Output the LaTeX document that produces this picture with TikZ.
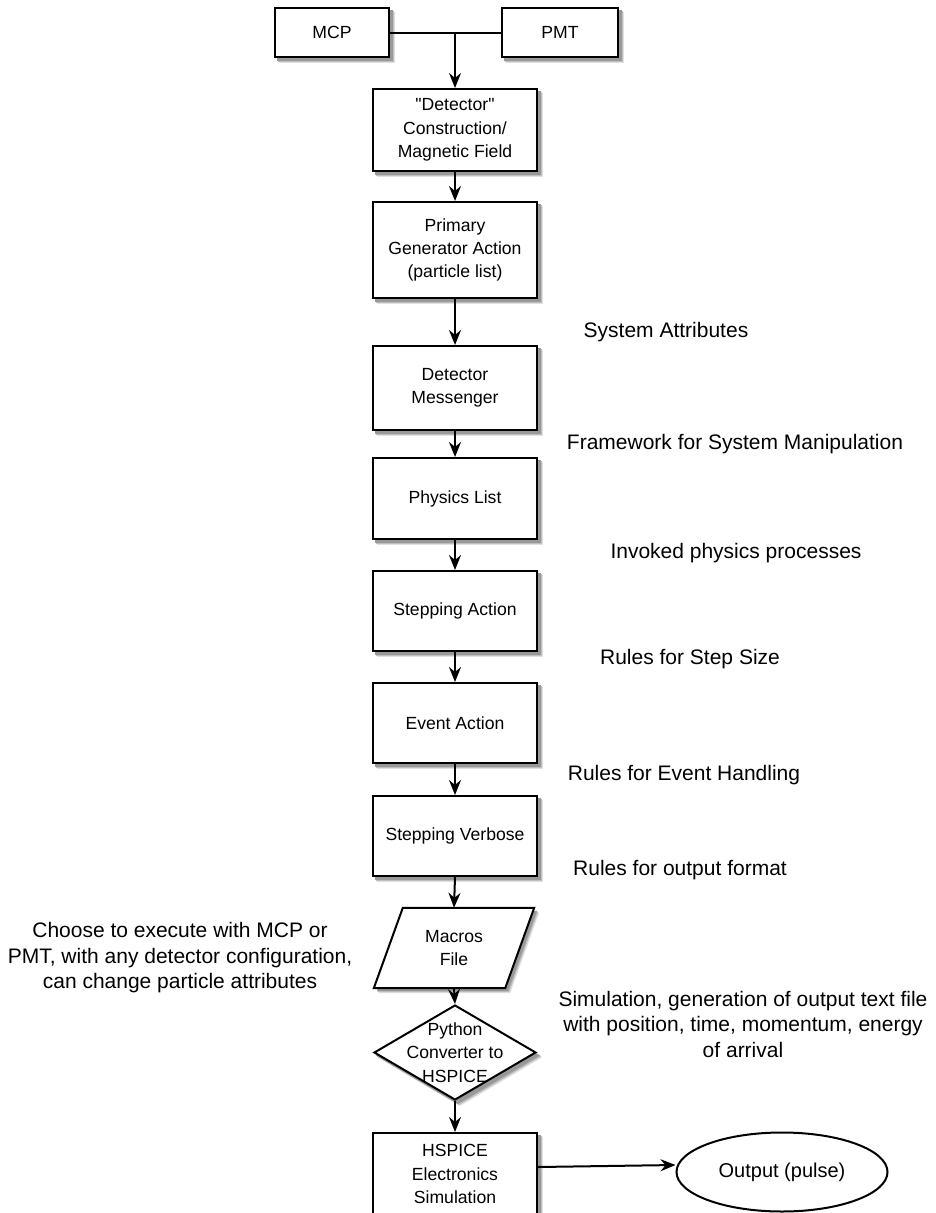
\documentclass[tikz,border=0pt]{standalone}
\usepackage{fontspec}
\setmainfont{Liberation Sans}[Ligatures=TeXOff]
\usetikzlibrary{arrows.meta,shapes.geometric}

\newcommand\boxfont{\fontsize{17.6}{23.3}\selectfont}
\newcommand\notefont{\fontsize{21}{25.5}\selectfont}
\newcommand\outfont{\fontsize{20}{24}\selectfont}

\pgfdeclarelayer{shadowlayer}
\pgfsetlayers{shadowlayer,main}

% soft shadow behind a rectangular node: three grey offsets, darkest nearest
\newcommand\rectshadow[1]{%
  \foreach \d/\c in {5/12,4/25,3/40}
    \fill[black!\c] ([shift={(\d pt,-\d pt)}]#1.south west) rectangle ([shift={(\d pt,-\d pt)}]#1.north east);}

\begin{document}
\begin{tikzpicture}[x=1pt,y=-1pt,
  outline/.style={draw=black,line width=2pt,fill=white},
  stepbox/.style={outline,align=center,inner sep=0pt,
      minimum width=164pt,font=\boxfont},
  boxtext/.style={align=center,inner sep=0pt,font=\boxfont},
  note/.style={align=center,inner sep=0pt,font=\notefont},
  link/.style={line width=2pt},
  flow/.style={link,-{Stealth[length=15pt,width=12pt,inset=5pt]}}
]
\useasboundingbox (0,0) rectangle (935,1213);

% detector choices
\node[stepbox,minimum width=114pt,minimum height=49pt] (mcp) at (332,32.5) {MCP};
\node[stepbox,minimum width=116pt,minimum height=49pt] (pmt) at (560,32.5) {PMT};

% main simulation chain
\node[stepbox,minimum height=82pt] (det) at (455,130) {"Detector"\\Construction/\\Magnetic Field};
\node[stepbox,minimum height=96pt] (gen) at (455,250) {Primary\\Generator Action\\(particle list)};
\node[stepbox,minimum height=84pt] (msg) at (455,388) {Detector\\Messenger};
\node[stepbox,minimum height=81pt] (phys) at (455,498.5) {Physics List};
\node[stepbox,minimum height=80pt] (step) at (455,611) {Stepping Action};
\node[stepbox,minimum height=80pt] (event) at (455,723) {Event Action};
\node[stepbox,minimum height=80pt] (verb) at (455,836) {Stepping Verbose};

% macro input: slanted box around a plain text node
\node[boxtext,minimum width=131pt,minimum height=80pt] (macros) at (454,948) {};
\draw[outline]
  ([xshift=-14.5pt]macros.south west) -- ([xshift=14.5pt]macros.north west) --
  ([xshift=14.5pt]macros.north east) -- ([xshift=-14.5pt]macros.south east) -- cycle;
\node[boxtext] (macrostext) at (macros) {Macros\\File};

% conversion step
\node[diamond,outline,inner sep=0pt,
      minimum width=162pt,minimum height=95pt] (conv) at (455,1052.5) {};
\node[boxtext] (convtext) at (conv) {Python\\Converter to\\HSPICE};

% electronics and result
\node[stepbox,minimum height=82pt] (hspice) at (455,1174) {HSPICE\\Electronics\\Simulation};
\node[draw=black,line width=2pt,ellipse,inner sep=0pt,
      minimum width=211pt,minimum height=79pt,font=\outfont] (out) at (782,1172) {Output (pulse)};

% shadows behind the shapes
\begin{pgfonlayer}{shadowlayer}
  \foreach \n in {mcp,pmt,det,gen,msg,phys,step,event,verb,hspice}
    {\rectshadow{\n}}
  \foreach \d/\c in {5/12,4/25,3/40} {
    \fill[black!\c] ([shift={(\d pt-14.5pt,-\d pt)}]macros.south west) --
      ([shift={(\d pt+14.5pt,-\d pt)}]macros.north west) --
      ([shift={(\d pt+14.5pt,-\d pt)}]macros.north east) --
      ([shift={(\d pt-14.5pt,-\d pt)}]macros.south east) -- cycle;
    \fill[black!\c] ([shift={(\d pt,-\d pt)}]conv.north) --
      ([shift={(\d pt,-\d pt)}]conv.east) --
      ([shift={(\d pt,-\d pt)}]conv.south) --
      ([shift={(\d pt,-\d pt)}]conv.west) -- cycle;
  }
\end{pgfonlayer}

% connectors
\coordinate (join) at (det.north |- mcp.east);
\draw[link] (mcp.east) -- (pmt.west);
\draw[flow] (join) -- (det.north);
\draw[flow] (det.south) -- (gen.north);
\draw[flow] (gen.south) -- (msg.north);
\draw[flow] (msg.south) -- (phys.north);
\draw[flow] (phys.south) -- (step.north);
\draw[flow] (step.south) -- (event.north);
\draw[flow] (event.south) -- (verb.north);
\draw[flow] (verb.south) -- (macros.north);
\draw[flow] (macros.south) -- (conv.north);
\draw[flow] (conv.south) -- (hspice.north);
\draw[flow] ([yshift=7pt]hspice.east) -- ([yshift=7pt]out.west);

% annotations
\node[note] (n1) at (666,332) {System Attributes};
\node[note] (n2) at (735,444) {Framework for System Manipulation};
\node[note] (n3) at (736,553) {Invoked physics processes};
\node[note] (n4) at (690,659) {Rules for Step Size};
\node[note] (n5) at (684,775) {Rules for Event Handling};
\node[note] (n6) at (680,870) {Rules for output format};
\node[note] (n7) at (743,1024) {Simulation, generation of output text file\\with position, time, momentum, energy\\of arrival};
\node[note] (n8) at (180,958) {Choose to execute with MCP or\\PMT, with any detector configuration,\\can change particle attributes};
\end{tikzpicture}
\end{document}
